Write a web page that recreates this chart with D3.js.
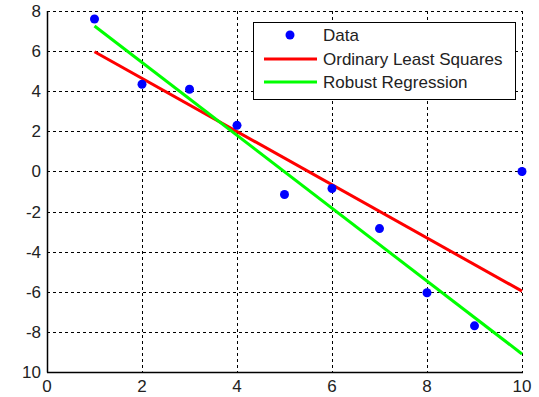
<!DOCTYPE html>
<html>
<head>
<meta charset="utf-8">
<script src="https://cdn.jsdelivr.net/npm/d3@7"></script>
<style>
  body { margin: 0; background: #fff; }
  svg { display: block; font-family: "Liberation Sans", Arial, sans-serif; }
</style>
</head>
<body>
<div id="chart"></div>
<script>
// ======= data ========
var xData = [1, 2, 3, 4, 5, 6, 7, 8, 9, 10];
var yData = [7.6, 4.35, 4.1, 2.3, -1.15, -0.85, -2.85, -6.05, -7.7, 0];
var olsX = [1, 10];
var olsY = [5.97, -5.97];
var robustX = [1, 10];
var robustY = [7.25, -9.1];
var xTicks = [0, 2, 4, 6, 8, 10];
var yTicks = [8, 6, 4, 2, 0, -2, -4, -6, -8, -10];
var yTickLabels = ["8", "6", "4", "2", "0", "-2", "-4", "-6", "-8", "10"];
var legendLabels = ["Data", "Ordinary Least Squares", "Robust Regression"];

var width = 539;
var height = 397;
var plotLeft = 47, plotRight = 522, plotTop = 11, plotBottom = 372;
var fontSize = 17;

var svg = d3.select("#chart")
  .append("svg")
    .attr("width", width)
    .attr("height", height);

var x = d3.scaleLinear().domain([0, 10]).range([plotLeft, plotRight]);
var y = d3.scaleLinear().domain([-10, 8]).range([plotBottom, plotTop]);

// ======= grid ========
var grid = svg.append("g").attr("class", "grid")
    .attr("stroke", "#000").attr("stroke-width", 1).attr("stroke-dasharray", "3,3");

grid.selectAll(".vgrid")
    .data(xTicks.filter(function(d){ return d > 0; }))
  .enter().append("line")
    .attr("x1", function(d){ return Math.round(x(d)) + 0.5; })
    .attr("x2", function(d){ return Math.round(x(d)) + 0.5; })
    .attr("y1", plotTop).attr("y2", plotBottom);

grid.selectAll(".hgrid")
    .data(yTicks.filter(function(d){ return d > -10; }))
  .enter().append("line")
    .attr("y1", function(d){ return Math.round(y(d)) + 0.5; })
    .attr("y2", function(d){ return Math.round(y(d)) + 0.5; })
    .attr("x1", plotLeft).attr("x2", plotRight);

// ======= axes ========
svg.append("line")
    .attr("x1", plotLeft + 0.5).attr("x2", plotLeft + 0.5)
    .attr("y1", plotTop).attr("y2", plotBottom + 0.5)
    .attr("stroke", "#000").attr("stroke-width", 1.5);
svg.append("line")
    .attr("x1", plotLeft).attr("x2", plotRight + 1)
    .attr("y1", plotBottom + 0.5).attr("y2", plotBottom + 0.5)
    .attr("stroke", "#000").attr("stroke-width", 1.5);

svg.selectAll(".xlab")
    .data(xTicks)
  .enter().append("text")
    .attr("x", function(d){ return x(d); })
    .attr("y", plotBottom + 20)
    .attr("text-anchor", "middle")
    .attr("font-size", fontSize)
    .attr("fill", "#222")
    .text(function(d){ return d; });

svg.selectAll(".ylab")
    .data(yTicks)
  .enter().append("text")
    .attr("x", plotLeft - 6)
    .attr("y", function(d){ return y(d) + 6; })
    .attr("text-anchor", "end")
    .attr("font-size", fontSize)
    .attr("fill", "#222")
    .text(function(d, i){ return yTickLabels[i]; });

// ======= fitted lines ========
var line = d3.line()
    .x(function(d){ return x(d[0]); })
    .y(function(d){ return y(d[1]); });

svg.append("path")
    .datum(d3.zip(olsX, olsY))
    .attr("d", line)
    .attr("fill", "none")
    .attr("stroke", "#ff0000")
    .attr("stroke-width", 3);

svg.append("path")
    .datum(d3.zip(robustX, robustY))
    .attr("d", line)
    .attr("fill", "none")
    .attr("stroke", "#00ff00")
    .attr("stroke-width", 3);

// ======= points ========
svg.selectAll(".pt")
    .data(d3.zip(xData, yData))
  .enter().append("circle")
    .attr("cx", function(d){ return x(d[0]); })
    .attr("cy", function(d){ return y(d[1]); })
    .attr("r", 4.5)
    .attr("fill", "#0000ff");

// ======= legend ========
var legend = svg.append("g").attr("transform", "translate(253,22)");
legend.append("rect")
    .attr("x", 0.5).attr("y", 0.5)
    .attr("width", 262).attr("height", 77)
    .attr("fill", "#fff").attr("stroke", "#000").attr("stroke-width", 1);

legend.append("circle")
    .attr("cx", 37).attr("cy", 13).attr("r", 4.5).attr("fill", "#0000ff");
legend.append("line")
    .attr("x1", 11).attr("x2", 64).attr("y1", 37).attr("y2", 37)
    .attr("stroke", "#ff0000").attr("stroke-width", 3);
legend.append("line")
    .attr("x1", 11).attr("x2", 64).attr("y1", 60).attr("y2", 60)
    .attr("stroke", "#00ff00").attr("stroke-width", 3);

legend.selectAll(".ltext")
    .data(legendLabels)
  .enter().append("text")
    .attr("x", 70)
    .attr("y", function(d, i){ return 19 + i * 23.5; })
    .attr("font-size", fontSize)
    .attr("fill", "#222")
    .text(function(d){ return d; });
</script>
</body>
</html>
